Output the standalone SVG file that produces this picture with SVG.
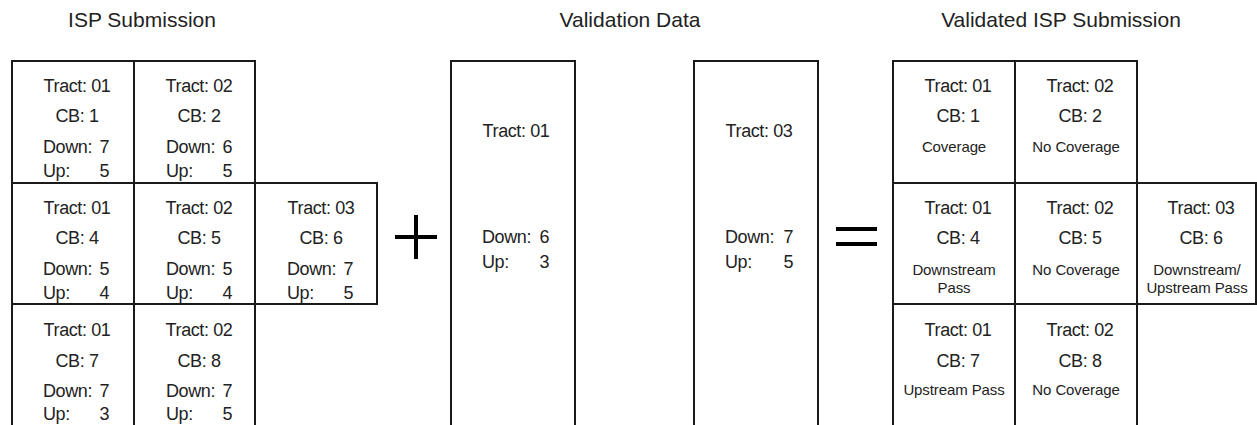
<svg xmlns="http://www.w3.org/2000/svg" width="1257" height="425" viewBox="0 0 1257 425">
<style>
.bg{fill:#fff}
.cell{fill:#fff;stroke:#1a1a1a;stroke-width:2}
.t{font-family:"Liberation Sans",Arial,sans-serif;font-size:18px;letter-spacing:-0.4px;fill:#222}
.s{font-family:"Liberation Sans",Arial,sans-serif;font-size:15px;letter-spacing:-0.1px;fill:#222;text-anchor:middle}
.h{font-family:"Liberation Sans",Arial,sans-serif;font-size:21px;fill:#222;text-anchor:middle}
.m{text-anchor:middle}
.e{text-anchor:end}
.op{stroke:#000;stroke-width:4;fill:none}
</style>
<rect class="bg" x="0" y="0" width="1257" height="425"/>

<g id="titles">
<text class="h" x="142" y="27">ISP Submission</text>
<text class="h" x="630" y="27">Validation Data</text>
<text class="h" x="1061" y="27">Validated ISP Submission</text>
</g>

<g id="isp-submission">
<g id="isp-t01-cb1">
<rect class="cell" x="12" y="61" width="122" height="122"/>
<text class="t m" x="77" y="92">Tract: 01</text>
<text class="t m" x="77" y="122">CB: 1</text>
<text class="t" x="43" y="153">Down:</text><text class="t e" x="109" y="153">7</text>
<text class="t" x="43" y="177">Up:</text><text class="t e" x="109" y="177">5</text>
</g>
<g id="isp-t02-cb2">
<rect class="cell" x="134" y="61" width="121" height="122"/>
<text class="t m" x="199" y="92">Tract: 02</text>
<text class="t m" x="199" y="122">CB: 2</text>
<text class="t" x="166" y="153">Down:</text><text class="t e" x="232" y="153">6</text>
<text class="t" x="166" y="177">Up:</text><text class="t e" x="232" y="177">5</text>
</g>
<g id="isp-t01-cb4">
<rect class="cell" x="12" y="183" width="122" height="121"/>
<text class="t m" x="77" y="214">Tract: 01</text>
<text class="t m" x="77" y="244">CB: 4</text>
<text class="t" x="43" y="275">Down:</text><text class="t e" x="109" y="275">5</text>
<text class="t" x="43" y="299">Up:</text><text class="t e" x="109" y="299">4</text>
</g>
<g id="isp-t02-cb5">
<rect class="cell" x="134" y="183" width="121" height="121"/>
<text class="t m" x="199" y="214">Tract: 02</text>
<text class="t m" x="199" y="244">CB: 5</text>
<text class="t" x="166" y="275">Down:</text><text class="t e" x="232" y="275">5</text>
<text class="t" x="166" y="299">Up:</text><text class="t e" x="232" y="299">4</text>
</g>
<g id="isp-t03-cb6">
<rect class="cell" x="255" y="183" width="122" height="121"/>
<text class="t m" x="321" y="214">Tract: 03</text>
<text class="t m" x="321" y="244">CB: 6</text>
<text class="t" x="287" y="275">Down:</text><text class="t e" x="353" y="275">7</text>
<text class="t" x="287" y="299">Up:</text><text class="t e" x="353" y="299">5</text>
</g>
<g id="isp-t01-cb7">
<rect class="cell" x="12" y="304" width="122" height="124"/>
<text class="t m" x="77" y="336">Tract: 01</text>
<text class="t m" x="77" y="367">CB: 7</text>
<text class="t" x="43" y="397">Down:</text><text class="t e" x="109" y="397">7</text>
<text class="t" x="43" y="420">Up:</text><text class="t e" x="109" y="420">3</text>
</g>
<g id="isp-t02-cb8">
<rect class="cell" x="134" y="304" width="121" height="124"/>
<text class="t m" x="199" y="336">Tract: 02</text>
<text class="t m" x="199" y="367">CB: 8</text>
<text class="t" x="166" y="397">Down:</text><text class="t e" x="232" y="397">7</text>
<text class="t" x="166" y="420">Up:</text><text class="t e" x="232" y="420">5</text>
</g>
</g>

<g id="validation-data">
<g id="val-t01">
<rect class="cell" x="451" y="61" width="124" height="367"/>
<text class="t m" x="516" y="137">Tract: 01</text>
<text class="t" x="482" y="243">Down:</text><text class="t e" x="549" y="243">6</text>
<text class="t" x="482" y="268">Up:</text><text class="t e" x="549" y="268">3</text>
</g>
<g id="val-t03">
<rect class="cell" x="694" y="61" width="124" height="367"/>
<text class="t m" x="759" y="137">Tract: 03</text>
<text class="t" x="725" y="243">Down:</text><text class="t e" x="793" y="243">7</text>
<text class="t" x="725" y="268">Up:</text><text class="t e" x="793" y="268">5</text>
</g>
</g>

<g id="validated-submission">
<g id="vs-t01-cb1">
<rect class="cell" x="893" y="61" width="122" height="122"/>
<text class="t m" x="958" y="92">Tract: 01</text>
<text class="t m" x="958" y="122">CB: 1</text>
<text class="s" x="954" y="152">Coverage</text>
</g>
<g id="vs-t02-cb2">
<rect class="cell" x="1015" y="61" width="122" height="122"/>
<text class="t m" x="1080" y="92">Tract: 02</text>
<text class="t m" x="1080" y="122">CB: 2</text>
<text class="s" x="1076" y="152">No Coverage</text>
</g>
<g id="vs-t01-cb4">
<rect class="cell" x="893" y="183" width="122" height="121"/>
<text class="t m" x="958" y="214">Tract: 01</text>
<text class="t m" x="958" y="244">CB: 4</text>
<text class="s" x="954" y="275">Downstream</text>
<text class="s" x="954" y="293">Pass</text>
</g>
<g id="vs-t02-cb5">
<rect class="cell" x="1015" y="183" width="122" height="121"/>
<text class="t m" x="1080" y="214">Tract: 02</text>
<text class="t m" x="1080" y="244">CB: 5</text>
<text class="s" x="1076" y="275">No Coverage</text>
</g>
<g id="vs-t03-cb6">
<rect class="cell" x="1137" y="183" width="119" height="121"/>
<text class="t m" x="1201" y="214">Tract: 03</text>
<text class="t m" x="1201" y="244">CB: 6</text>
<text class="s" x="1197" y="275">Downstream/</text>
<text class="s" x="1197" y="293">Upstream Pass</text>
</g>
<g id="vs-t01-cb7">
<rect class="cell" x="893" y="304" width="122" height="124"/>
<text class="t m" x="958" y="336">Tract: 01</text>
<text class="t m" x="958" y="367">CB: 7</text>
<text class="s" x="954" y="395">Upstream Pass</text>
</g>
<g id="vs-t02-cb8">
<rect class="cell" x="1015" y="304" width="122" height="124"/>
<text class="t m" x="1080" y="336">Tract: 02</text>
<text class="t m" x="1080" y="367">CB: 8</text>
<text class="s" x="1076" y="395">No Coverage</text>
</g>
</g>

<g id="connectors">
<g id="plus">
<line class="op" x1="395" y1="237" x2="437" y2="237"/>
<line class="op" x1="416" y1="215" x2="416" y2="259"/>
</g>
<g id="equals">
<line class="op" x1="836" y1="229" x2="877" y2="229"/>
<line class="op" x1="836" y1="244" x2="877" y2="244"/>
</g>
</g>
</svg>
